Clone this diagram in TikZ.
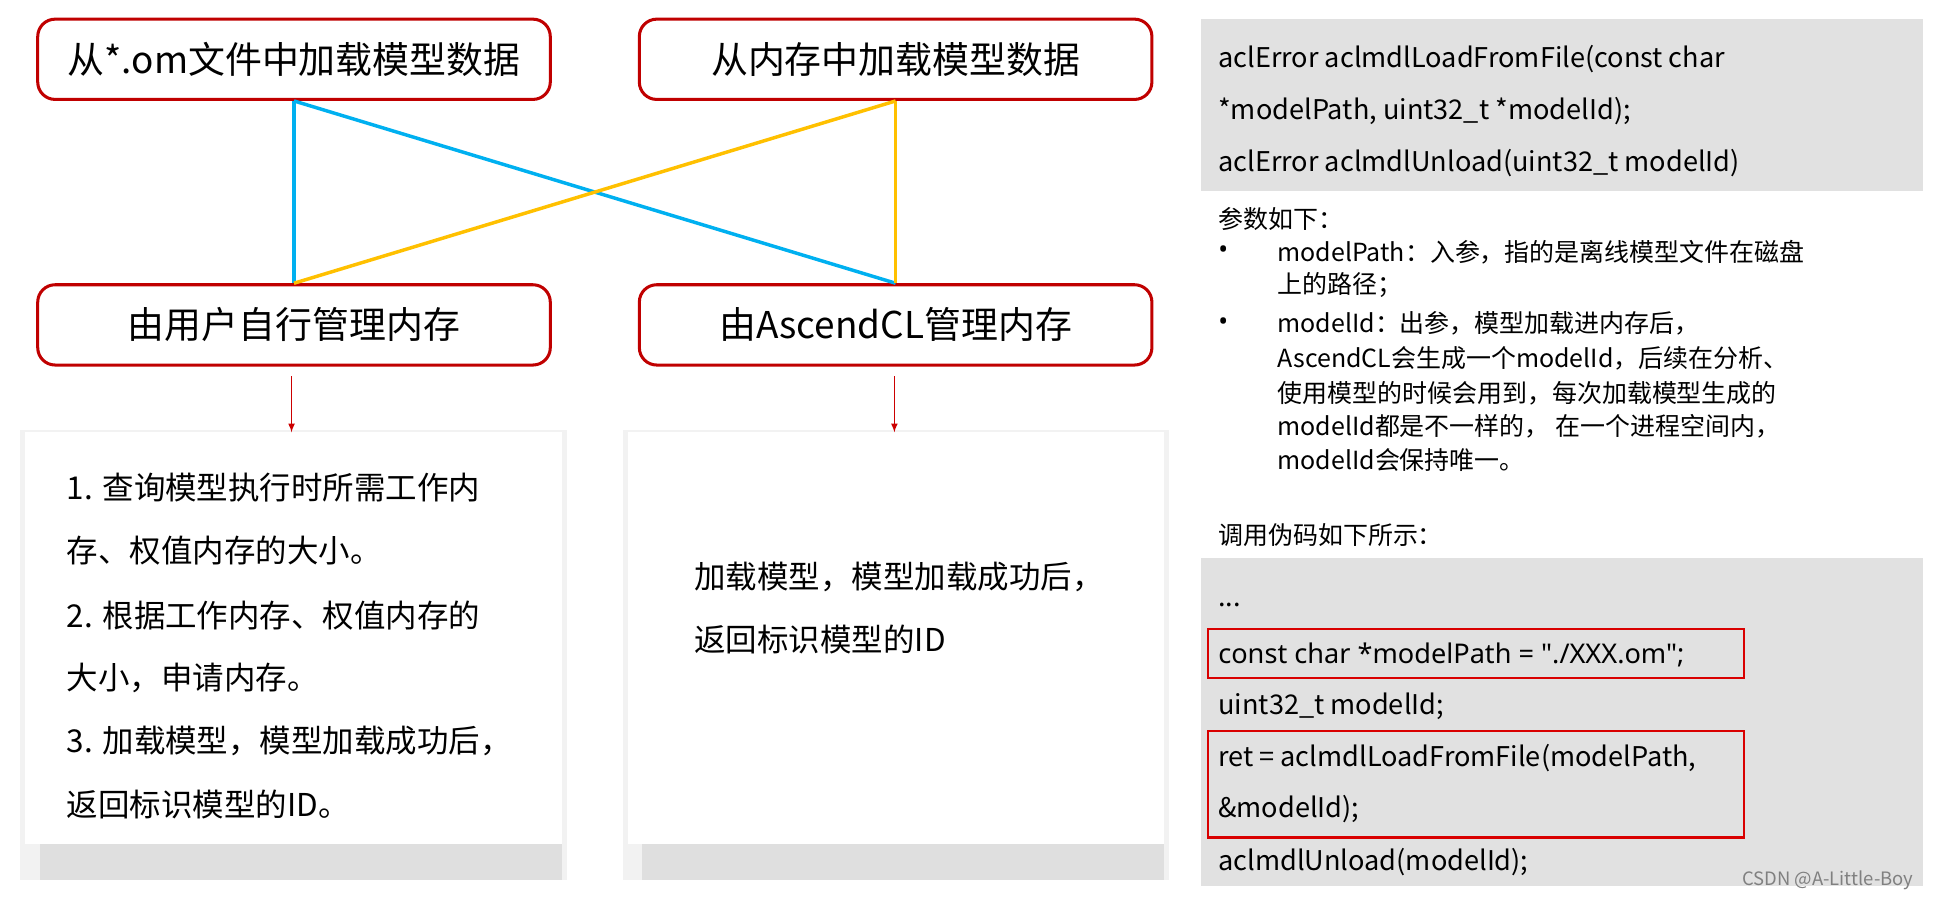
\documentclass[tikz,border=0pt]{standalone}
\usepackage{fontspec}
\setmainfont{Noto Sans CJK SC}
\newfontfamily\latinfont{Noto Sans}
\usetikzlibrary{positioning,calc}
\definecolor{boxred}{HTML}{C00000}
\definecolor{lineblue}{HTML}{00B0F0}
\definecolor{lineyellow}{HTML}{FFC000}
\definecolor{panelgray}{HTML}{E1E1E1}
\tikzset{
  loadbox/.style={draw=boxred, line width=1.4pt, rounded corners=8pt, fill=white,
    minimum width=8.3cm, minimum height=1.3cm, font=\fontsize{17}{20}\selectfont},
  cardtext/.style={anchor=west, font=\fontsize{14.5}{17}\selectfont},
  codetext/.style={anchor=west, font=\fontsize{12.5}{15}\selectfont},
  notetext/.style={anchor=west, font=\fontsize{11.5}{13}\selectfont},
  redframe/.style={draw=red!85!black, line width=1pt}
}
\begin{document}
\begin{tikzpicture}[x=0.02cm, y=-0.02cm]
  \useasboundingbox (0,0) rectangle (1568,729);
  % top and bottom boxes
  \node[loadbox] (fromfile) at (238,48) {从*.om文件中加载模型数据};
  \node[loadbox] (frommem) at (725,48) {从内存中加载模型数据};
  \node[loadbox] (usermem) at (238,263) {由用户自行管理内存};
  \node[loadbox] (aclmem) at (725,263) {由AscendCL管理内存};
  % crossing lines
  \draw[lineblue, line width=1.6pt] (fromfile.south) -- (usermem.north);
  \draw[lineblue, line width=1.6pt] (fromfile.south) -- (aclmem.north);
  \draw[lineyellow, line width=1.6pt] (frommem.south) -- (aclmem.north);
  \draw[lineyellow, line width=1.6pt] (frommem.south) -- (usermem.north);
  % cards with shadow
  \fill[gray!10] (16,348) rectangle (459,712);
  \fill[gray!25] (32,360) rectangle (455,712);
  \fill[white] (20,350) rectangle (455,683);
  \fill[gray!10] (504,348) rectangle (946,712);
  \fill[gray!25] (520,360) rectangle (942,712);
  \fill[white] (508,350) rectangle (942,683);
  \coordinate (usertip) at (236,350);
  \coordinate (acltip) at (724,350);
  \draw[-latex, red!80!black, thin] ($(usermem.south)+(-2,8)$) -- (usertip);
  \draw[-latex, red!80!black, thin] ($(aclmem.south)+(-1,8)$) -- (acltip);
  \node[cardtext] (l1) at (48,395) {1. 查询模型执行时所需工作内};
  \node[cardtext] (l2) at (48,446) {存、权值内存的大小。};
  \node[cardtext] (l3) at (48,498) {2. 根据工作内存、权值内存的};
  \node[cardtext] (l4) at (48,549) {大小，申请内存。};
  \node[cardtext] (l5) at (48,600) {3. 加载模型，模型加载成功后，};
  \node[cardtext] (l6) at (48,651) {返回标识模型的ID。};
  \node[cardtext] (r1) at (556,467) {加载模型，模型加载成功后，};
  \node[cardtext] (r2) at (556,518) {返回标识模型的ID};
  % right panel
  \fill[panelgray] (972,15) rectangle (1557,155);
  \node[codetext] (api1) at (980,48) {aclError aclmdlLoadFromFile(const char};
  \node[codetext] (api2) at (980,90) {*modelPath, uint32\_t *modelId);};
  \node[codetext] (api3) at (980,132) {aclError aclmdlUnload(uint32\_t modelId)};
  \node[notetext] (par) at (980,177) {参数如下：};
  \node[notetext] at (980,204) {{\latinfont\large •}};
  \node[notetext] (p1) at (1028,204) {modelPath：入参，指的是离线模型文件在磁盘};
  \node[notetext] (p2) at (1028,231) {上的路径；};
  \node[notetext] at (980,262) {{\latinfont\large •}};
  \node[notetext] (p3) at (1028,262) {modelId：出参，模型加载进内存后，};
  \node[notetext] (p4) at (1028,290) {AscendCL会生成一个modelId，后续在分析、};
  \node[notetext] (p5) at (1028,318) {使用模型的时候会用到，每次加载模型生成的};
  \node[notetext] (p6) at (1028,345) {modelId都是不一样的， 在一个进程空间内，};
  \node[notetext] (p7) at (1028,372) {modelId会保持唯一。};
  \node[notetext] (call) at (980,433) {调用伪码如下所示：};
  \fill[panelgray] (972,452) rectangle (1557,717);
  \node[codetext] (c1) at (980,490) {...};
  \node[codetext] (c2) at (980,530) {{\latinfont const char *modelPath = "./XXX.om";}};
  \node[codetext] (c3) at (980,572) {uint32\_t modelId;};
  \node[codetext] (c4) at (980,614) {ret = aclmdlLoadFromFile(modelPath,};
  \node[codetext] (c5) at (980,655) {\&modelId);};
  \node[codetext] (c6) at (980,698) {aclmdlUnload(modelId);};
  \draw[redframe] (978,509) rectangle (1412,549);
  \draw[redframe] (978,592) rectangle (1412,678);
  \node[anchor=east, text=gray, font=\fontsize{8.5}{10}\selectfont] (wm) at (1555,713) {CSDN @A-Little-Boy};
\end{tikzpicture}
\end{document}
